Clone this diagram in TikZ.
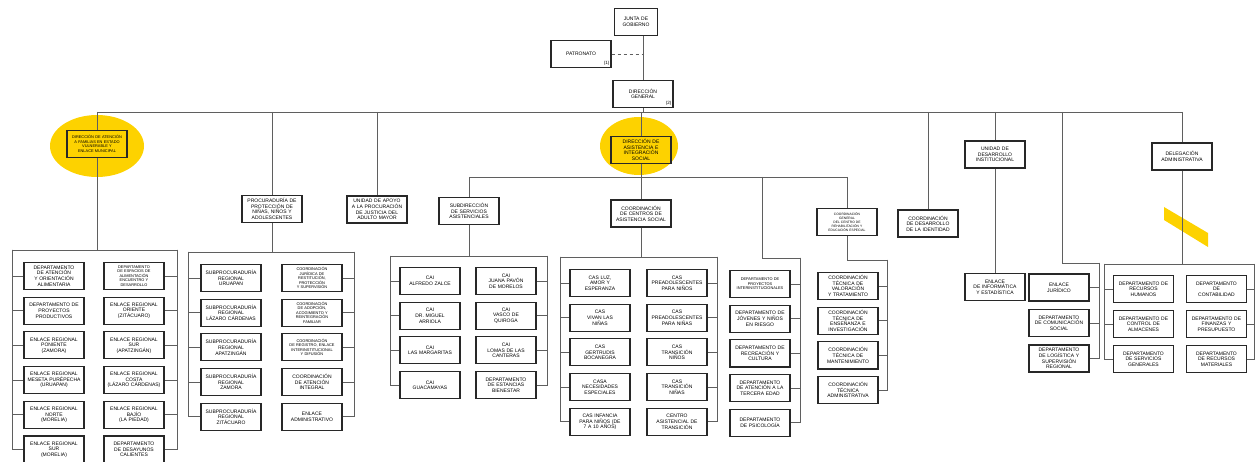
\documentclass[tikz,border=0pt]{standalone}
\usepackage{fontspec}
\setmainfont{Liberation Sans}
\usetikzlibrary{positioning}
\definecolor{hlyellow}{RGB}{253,210,0}
\definecolor{boxgray}{RGB}{40,40,40}
\definecolor{linkgray}{RGB}{95,95,95}
\tikzstyle{unit} = [rectangle, draw=boxgray, line width=1.2pt, minimum height=27pt, text width=57pt, inner xsep=1.5pt, inner ysep=1pt, align=center, font=\fontsize{5}{5.6}\selectfont]
\tikzstyle{unit_small} = [unit, font=\fontsize{3.9}{4.6}\selectfont]
\tikzstyle{unit_tiny} = [unit, font=\fontsize{3.3}{4.0}\selectfont]
\tikzstyle{num} = [anchor=south east, inner sep=2pt, font=\fontsize{4.6}{4.6}\selectfont]
\tikzstyle{link} = [line width=0.9pt, draw=linkgray]
\tikzstyle{highlight} = [fill=hlyellow, draw=none]

\begin{document}
\begin{tikzpicture}[x=1pt, y=-1pt, node distance=34.7pt]
\useasboundingbox (0,0) rectangle (1256,462);
% marcas amarillas
\fill [highlight] (97,146) ellipse [x radius=47pt, y radius=31pt];
\fill [highlight] (639,146) ellipse [x radius=39pt, y radius=29pt];
\fill [highlight] (1164,207) -- (1208,233) -- (1208,247) -- (1164,220) -- cycle;
%
\node (junta) [unit, text width=40pt] at (636,22) {JUNTA DE\\GOBIERNO};
\node (patronato) [unit] at (581,54) {PATRONATO};
\node (patronato_num) [num] at (patronato.south east) {(1)};
\node (dir_gen) [unit] at (643,94) {DIRECCIÓN\\GENERAL};
\node (dir_gen_num) [num] at (dir_gen.south east) {(2)};
%
\node (dir_asoc) [unit_small] at (97,144) {DIRECCIÓN DE ATENCIÓN\\A FAMILIAS EN ESTADO\\VULNERABLE Y\\ENLACE MUNICIPAL};
\node (dep_alimentaria) [unit] at (54,276) {DEPARTAMENTO\\DE ATENCIÓN\\Y ORIENTACIÓN\\ALIMENTARIA};
\node (dep_proyectos) [unit, below of=dep_alimentaria] {DEPARTAMENTO DE\\PROYECTOS\\PRODUCTIVOS};
\node (er_poniente) [unit, below of=dep_proyectos] {ENLACE REGIONAL\\PONIENTE\\(ZAMORA)};
\node (er_meseta) [unit, below of=er_poniente] {ENLACE REGIONAL\\MESETA PURÉPECHA\\(URUAPAN)};
\node (er_norte) [unit, below of=er_meseta] {ENLACE REGIONAL\\NORTE\\(MORELIA)};
\node (er_sur_morelia) [unit, below of=er_norte] {ENLACE REGIONAL\\SUR\\(MORELIA)};
\node (dep_espacios) [unit_small] at (134,276) {DEPARTAMENTO\\DE ESPACIOS DE\\ALIMENTACIÓN\\ENCUENTRO Y\\DESARROLLO};
\node (er_oriente) [unit, below of=dep_espacios] {ENLACE REGIONAL\\ORIENTE\\(ZITÁCUARO)};
\node (er_sur_apatz) [unit, below of=er_oriente] {ENLACE REGIONAL\\SUR\\(APATZINGÁN)};
\node (er_costa) [unit, below of=er_sur_apatz] {ENLACE REGIONAL\\COSTA\\(LÁZARO CÁRDENAS)};
\node (er_bajio) [unit, below of=er_costa] {ENLACE REGIONAL\\BAJÍO\\(LA PIEDAD)};
\node (dep_desayunos) [unit, below of=er_bajio] {DEPARTAMENTO\\DE DESAYUNOS\\CALIENTES};
%
\node (procuraduria) [unit] at (272,209) {PROCURADURÍA DE\\PROTECCIÓN DE\\NIÑAS, NIÑOS Y\\ADOLESCENTES};
\node (sp_uruapan) [unit] at (231,278) {SUBPROCURADURÍA\\REGIONAL\\URUAPAN};
\node (sp_lazaro) [unit, below of=sp_uruapan] {SUBPROCURADURÍA\\REGIONAL\\LÁZARO CÁRDENAS};
\node (sp_apatzingan) [unit, below of=sp_lazaro] {SUBPROCURADURÍA\\REGIONAL\\APATZINGÁN};
\node (sp_zamora) [unit, below of=sp_apatzingan] {SUBPROCURADURÍA\\REGIONAL\\ZAMORA};
\node (sp_zitacuaro) [unit, below of=sp_zamora] {SUBPROCURADURÍA\\REGIONAL\\ZITÁCUARO};
\node (co_juridica) [unit_small] at (312,278) {COORDINACIÓN\\JURÍDICA DE\\RESTITUCIÓN,\\PROTECCIÓN\\Y SUPERVISIÓN};
\node (co_adopcion) [unit_small, below of=co_juridica] {COORDINACIÓN\\DE ADOPCIÓN,\\ACOGIMIENTO Y\\REINTEGRACIÓN\\FAMILIAR};
\node (co_registro) [unit_small, below of=co_adopcion] {COORDINACIÓN\\DE REGISTRO, ENLACE\\INTERINSTITUCIONAL\\Y DIFUSIÓN};
\node (co_atencion) [unit, below of=co_registro] {COORDINACIÓN\\DE ATENCIÓN\\INTEGRAL};
\node (enlace_admin) [unit, below of=co_atencion] {ENLACE\\ADMINISTRATIVO};
%
\node (unidad_apoyo) [unit] at (377,209.5) {UNIDAD DE APOYO\\A LA PROCURACIÓN\\DE JUSTICIA DEL\\ADULTO MAYOR};
%
\node (dir_asist) [unit] at (641,150) {DIRECCIÓN DE\\ASISTENCIA E\\INTEGRACIÓN\\SOCIAL};
\node (subdir) [unit] at (469,211) {SUBDIRECCIÓN\\DE SERVICIOS\\ASISTENCIALES};
\node (cai_zalce) [unit] at (430,281) {CAI\\ALFREDO ZALCE};
\node (cai_arriola) [unit, below of=cai_zalce] {CAI\\DR. MIGUEL\\ARRIOLA};
\node (cai_margaritas) [unit, below of=cai_arriola] {CAI\\LAS MARGARITAS};
\node (cai_guacamayas) [unit, below of=cai_margaritas] {CAI\\GUACAMAYAS};
\node (cai_pavon) [unit] at (506,281) {CAI\\JUANA PAVÓN\\DE MORELOS};
\node (cai_vasco) [unit, below of=cai_pavon] {CAI\\VASCO DE\\QUIROGA};
\node (cai_lomas) [unit, below of=cai_vasco] {CAI\\LOMAS DE LAS\\CANTERAS};
\node (dep_estancias) [unit, below of=cai_lomas] {DEPARTAMENTO\\DE ESTANCIAS\\BIENESTAR};
%
\node (coord_centros) [unit] at (641,213.5) {COORDINACIÓN\\DE CENTROS DE\\ASISTENCIA SOCIAL};
\node (cas_luz) [unit] at (600,283) {CAS LUZ,\\AMOR Y\\ESPERANZA};
\node (cas_vivan) [unit, below of=cas_luz] {CAS\\VIVAN LAS\\NIÑAS};
\node (cas_gertrudis) [unit, below of=cas_vivan] {CAS\\GERTRUDIS\\BOCANEGRA};
\node (casa_necesidades) [unit, below of=cas_gertrudis] {CASA\\NECESIDADES\\ESPECIALES};
\node (cas_infancia) [unit, below of=casa_necesidades] {CAS INFANCIA\\PARA NIÑOS (DE\\7 A 10 AÑOS)};
\node (cas_pre_ninos) [unit] at (677,283) {CAS\\PREADOLESCENTES\\PARA NIÑOS};
\node (cas_pre_ninas) [unit, below of=cas_pre_ninos] {CAS\\PREADOLESCENTES\\PARA NIÑAS};
\node (cas_trans_ninos) [unit, below of=cas_pre_ninas] {CAS\\TRANSICIÓN\\NIÑOS};
\node (cas_trans_ninas) [unit, below of=cas_trans_ninos] {CAS\\TRANSICIÓN\\NIÑAS};
\node (centro_transicion) [unit, below of=cas_trans_ninas] {CENTRO\\ASISTENCIAL DE\\TRANSICIÓN};
%
\node (dep_interinst) [unit_small] at (760,284) {DEPARTAMENTO DE\\PROYECTOS\\INTERINSTITUCIONALES};
\node (dep_jovenes) [unit, below of=dep_interinst] {DEPARTAMENTO DE\\JÓVENES Y NIÑOS\\EN RIESGO};
\node (dep_recreacion) [unit, below of=dep_jovenes] {DEPARTAMENTO DE\\RECREACIÓN Y\\CULTURA};
\node (dep_tercera_edad) [unit, below of=dep_recreacion] {DEPARTAMENTO\\DE ATENCIÓN A LA\\TERCERA EDAD};
\node (dep_psicologia) [unit, below of=dep_tercera_edad] {DEPARTAMENTO\\DE PSICOLOGÍA};
%
\node (coord_gral) [unit_tiny] at (847,222) {COORDINACIÓN\\GENERAL\\DEL CENTRO DE\\REHABILITACIÓN Y\\EDUCACIÓN ESPECIAL};
\node (ct_valoracion) [unit] at (848,286) {COORDINACIÓN\\TÉCNICA DE\\VALORACIÓN\\Y TRATAMIENTO};
\node (ct_ensenanza) [unit, below of=ct_valoracion] {COORDINACIÓN\\TÉCNICA DE\\ENSEÑANZA E\\INVESTIGACIÓN};
\node (ct_mantenimiento) [unit, below of=ct_ensenanza] {COORDINACIÓN\\TÉCNICA DE\\MANTENIMIENTO};
\node (ct_admin) [unit, below of=ct_mantenimiento] {COORDINACIÓN\\TÉCNICA\\ADMINISTRATIVA};
%
\node (coord_ident) [unit] at (928,223.5) {COORDINACIÓN\\DE DESARROLLO\\DE LA IDENTIDAD};
\node (unidad_desa) [unit] at (995,154.5) {UNIDAD DE\\DESARROLLO\\INSTITUCIONAL};
\node (enlace_info) [unit] at (995,287) {ENLACE\\DE INFORMÁTICA\\Y ESTADÍSTICA};
%
\node (enlace_juridico) [unit] at (1059,287.5) {ENLACE\\JURÍDICO};
\node (dep_comunicacion) [unit, below of=enlace_juridico, node distance=35.5pt] {DEPARTAMENTO\\DE COMUNICACIÓN\\SOCIAL};
\node (dep_logistica) [unit, below of=dep_comunicacion, node distance=35.5pt] {DEPARTAMENTO\\DE LOGÍSTICA Y\\SUPERVISIÓN\\REGIONAL};
%
\node (delegacion) [unit] at (1182,156.5) {DELEGACIÓN\\ADMINISTRATIVA};
\node (dep_rh) [unit] at (1143.5,289) {DEPARTAMENTO DE\\RECURSOS\\HUMANOS};
\node (dep_almacenes) [unit, below of=dep_rh, node distance=35pt] {DEPARTAMENTO DE\\CONTROL DE\\ALMACENES};
\node (dep_serv_grales) [unit, below of=dep_almacenes, node distance=35pt] {DEPARTAMENTO\\DE SERVICIOS\\GENERALES};
\node (dep_contabilidad) [unit] at (1216.5,289) {DEPARTAMENTO\\DE\\CONTABILIDAD};
\node (dep_finanzas) [unit, below of=dep_contabilidad, node distance=35pt] {DEPARTAMENTO DE\\FINANZAS Y\\PRESUPUESTO};
\node (dep_rec_materiales) [unit, below of=dep_finanzas, node distance=35pt] {DEPARTAMENTO\\DE RECURSOS\\MATERIALES};

% puntos de las lineas
\coordinate (bus_l) at (97,112);
\coordinate (bus_r) at (1182,112);
\coordinate (sub_bus_l) at (469,177);
\coordinate (sub_bus_r) at (847,177);
\coordinate (asoc_l) at (12,250);
\coordinate (asoc_r) at (177,250);
\coordinate (proc_l) at (188,252);
\coordinate (proc_r) at (354,252);
\coordinate (cai_l) at (390,256);
\coordinate (cai_r) at (547,256);
\coordinate (cas_l) at (560,257);
\coordinate (cas_r) at (717,257);
\coordinate (dept_top) at (762,177);
\coordinate (dept_knee) at (762,258);
\coordinate (dept_rail) at (800,258);
\coordinate (cg_rail) at (887,260);
\coordinate (enl_top) at (1062,112);
\coordinate (enl_knee) at (1062,263);
\coordinate (enl_rail) at (1099,263);
\coordinate (deleg_l) at (1104,264);
\coordinate (deleg_r) at (1254,264);

%
\draw [link] (dir_gen.north) -- (dir_gen.north |- junta.south);
\draw [link, dashed] (patronato) -- (patronato -| dir_gen);
\draw [link] (dir_gen) -- (dir_gen |- bus_l);
\draw [link] (bus_l) -- (bus_r);
\draw [link] (bus_l) -- (dir_asoc);
\draw [link] (bus_l -| procuraduria) -- (procuraduria);
\draw [link] (bus_l -| unidad_apoyo) -- (unidad_apoyo);
\draw [link] (bus_l -| dir_asist) -- (dir_asist);
\draw [link] (bus_l -| coord_ident) -- (coord_ident);
\draw [link] (bus_l -| unidad_desa) -- (unidad_desa);
\draw [link] (enl_top) -- (enl_knee) -- (enl_rail);
\draw [link] (bus_r) -- (delegacion);
%
\draw [link] (dir_asoc) -- (dir_asoc |- asoc_l);
\draw [link] (asoc_l) -- (asoc_r);
\draw [link] (asoc_l) |- (dep_alimentaria);
\draw [link] (asoc_l) |- (dep_proyectos);
\draw [link] (asoc_l) |- (er_poniente);
\draw [link] (asoc_l) |- (er_meseta);
\draw [link] (asoc_l) |- (er_norte);
\draw [link] (asoc_l) |- (er_sur_morelia);
\draw [link] (asoc_r) |- (dep_espacios);
\draw [link] (asoc_r) |- (er_oriente);
\draw [link] (asoc_r) |- (er_sur_apatz);
\draw [link] (asoc_r) |- (er_costa);
\draw [link] (asoc_r) |- (er_bajio);
\draw [link] (asoc_r) |- (dep_desayunos);
%
\draw [link] (procuraduria) -- (procuraduria |- proc_l);
\draw [link] (proc_l) -- (proc_r);
\draw [link] (proc_l) |- (sp_uruapan);
\draw [link] (proc_l) |- (sp_lazaro);
\draw [link] (proc_l) |- (sp_apatzingan);
\draw [link] (proc_l) |- (sp_zamora);
\draw [link] (proc_l) |- (sp_zitacuaro);
\draw [link] (proc_r) |- (co_juridica);
\draw [link] (proc_r) |- (co_adopcion);
\draw [link] (proc_r) |- (co_registro);
\draw [link] (proc_r) |- (co_atencion);
\draw [link] (proc_r) |- (enlace_admin);
%
\draw [link] (dir_asist) -- (dir_asist |- sub_bus_l);
\draw [link] (sub_bus_l) -- (sub_bus_r);
\draw [link] (sub_bus_l) -- (subdir);
\draw [link] (sub_bus_l -| coord_centros) -- (coord_centros);
\draw [link] (dept_top) -- (dept_knee) -- (dept_rail);
\draw [link] (sub_bus_r) -- (coord_gral);
%
\draw [link] (subdir) -- (subdir |- cai_l);
\draw [link] (cai_l) -- (cai_r);
\draw [link] (cai_l) |- (cai_zalce);
\draw [link] (cai_l) |- (cai_arriola);
\draw [link] (cai_l) |- (cai_margaritas);
\draw [link] (cai_l) |- (cai_guacamayas);
\draw [link] (cai_r) |- (cai_pavon);
\draw [link] (cai_r) |- (cai_vasco);
\draw [link] (cai_r) |- (cai_lomas);
\draw [link] (cai_r) |- (dep_estancias);
%
\draw [link] (coord_centros) -- (coord_centros |- cas_l);
\draw [link] (cas_l) -- (cas_r);
\draw [link] (cas_l) |- (cas_luz);
\draw [link] (cas_l) |- (cas_vivan);
\draw [link] (cas_l) |- (cas_gertrudis);
\draw [link] (cas_l) |- (casa_necesidades);
\draw [link] (cas_l) |- (cas_infancia);
\draw [link] (cas_r) |- (cas_pre_ninos);
\draw [link] (cas_r) |- (cas_pre_ninas);
\draw [link] (cas_r) |- (cas_trans_ninos);
\draw [link] (cas_r) |- (cas_trans_ninas);
\draw [link] (cas_r) |- (centro_transicion);
%
\draw [link] (dept_rail) |- (dep_interinst);
\draw [link] (dept_rail) |- (dep_jovenes);
\draw [link] (dept_rail) |- (dep_recreacion);
\draw [link] (dept_rail) |- (dep_tercera_edad);
\draw [link] (dept_rail) |- (dep_psicologia);
%
\draw [link] (coord_gral) |- (cg_rail);
\draw [link] (cg_rail) |- (ct_valoracion);
\draw [link] (cg_rail) |- (ct_ensenanza);
\draw [link] (cg_rail) |- (ct_mantenimiento);
\draw [link] (cg_rail) |- (ct_admin);
%
\draw [link] (unidad_desa) -- (enlace_info);
\draw [link] (enl_rail) |- (enlace_juridico);
\draw [link] (enl_rail) |- (dep_comunicacion);
\draw [link] (enl_rail) |- (dep_logistica);
%
\draw [link] (delegacion) -- (delegacion |- deleg_l);
\draw [link] (deleg_l) -- (deleg_r);
\draw [link] (deleg_l) |- (dep_rh);
\draw [link] (deleg_l) |- (dep_almacenes);
\draw [link] (deleg_l) |- (dep_serv_grales);
\draw [link] (deleg_r) |- (dep_contabilidad);
\draw [link] (deleg_r) |- (dep_finanzas);
\draw [link] (deleg_r) |- (dep_rec_materiales);
%
\end{tikzpicture}
\end{document}
